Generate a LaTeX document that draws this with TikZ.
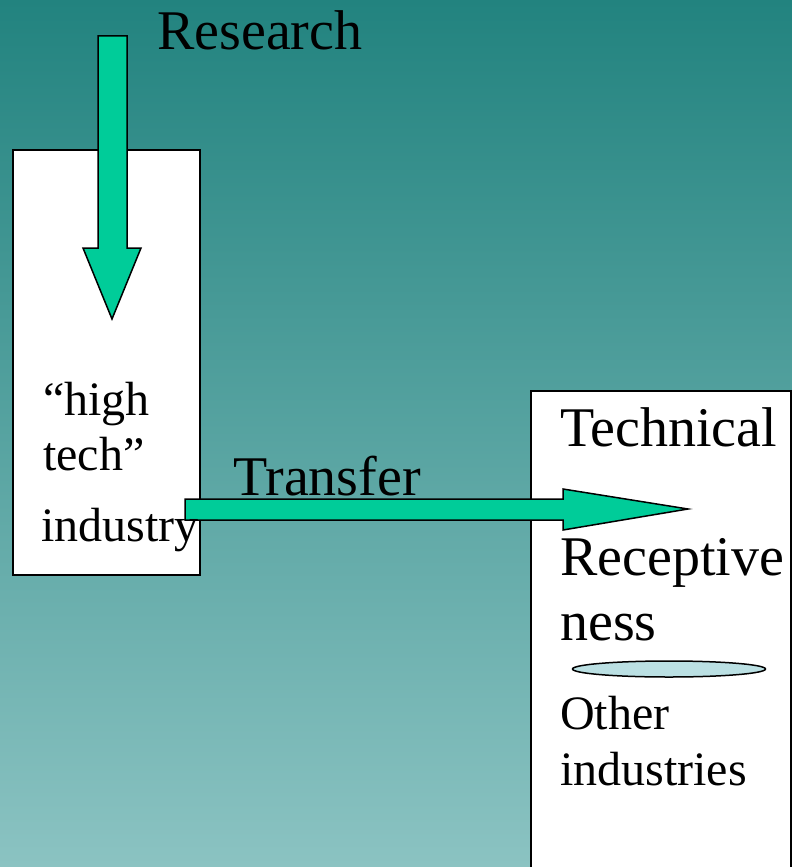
\documentclass[tikz,border=0pt]{standalone}
\usepackage{fontspec}
\setmainfont{Liberation Serif}
\usepackage{tikz}
\usetikzlibrary{shapes.geometric, positioning}
\definecolor{slide-top}{HTML}{22837F}
\definecolor{slide-bottom}{HTML}{8BC3C2}
\definecolor{flow-green}{HTML}{00CC99}
\definecolor{disc-blue}{HTML}{BBE0E3}

\tikzset{
  panel/.style={draw=black, fill=white, line width=1.5pt, inner sep=0pt, anchor=north west},
  blockarrow/.style={draw=black, fill=flow-green, line width=1.5pt, line join=miter},
  bigword/.style={anchor=base west, inner sep=0pt, font=\fontsize{56}{60}\selectfont},
  smallword/.style={anchor=base west, inner sep=0pt, font=\fontsize{48}{52}\selectfont}
}

\begin{document}
\begin{tikzpicture}[x=1pt, y=-1pt]
  \shade[top color=slide-top, bottom color=slide-bottom] (0,0) rectangle (792,867);
  \useasboundingbox (0,0) rectangle (792,867);

  \node[panel, minimum width=187pt, minimum height=425pt] (hightech) at (12,149) {};
  \begin{scope}
    \clip (0,0) rectangle (792,867);
    \node[panel, minimum width=260pt, minimum height=500pt] (receptive) at (530,390) {};
  \end{scope}

  % research flowing down into the high tech box
  \draw[blockarrow] (98,36) -- (127,36) -- (127,248) -- (141,248) -- (112,319)
    -- (83,248) -- (98,248) -- cycle;
  % transfer across to the other industries
  \draw[blockarrow] (185,499) -- (563,499) -- (563,489) -- (688,509)
    -- (563,530) -- (563,520) -- (185,520) -- cycle;

  \node[ellipse, draw=black, fill=disc-blue, line width=1.5pt, minimum width=193pt,
        minimum height=16pt, inner sep=0pt] (divider) at (669,669) {};

  \node[bigword] (research) at (157,50) {Research};
  \node[bigword] (transfer) at (233,495) {Transfer};
  \node[smallword] (high) at (43,415) {“high};
  \node[smallword] (tech) at (43,470) {tech”};
  \node[smallword] (industry) at (41,541) {industry};
  \node[bigword] (technical) at (560,446) {Technical};
  \node[bigword] (receptive-a) at (560,575) {Receptive};
  \node[bigword] (receptive-b) at (560,640) {ness};
  \node[smallword] (other) at (560,729) {Other};
  \node[smallword] (industries) at (560,785) {industries};
\end{tikzpicture}
\end{document}
